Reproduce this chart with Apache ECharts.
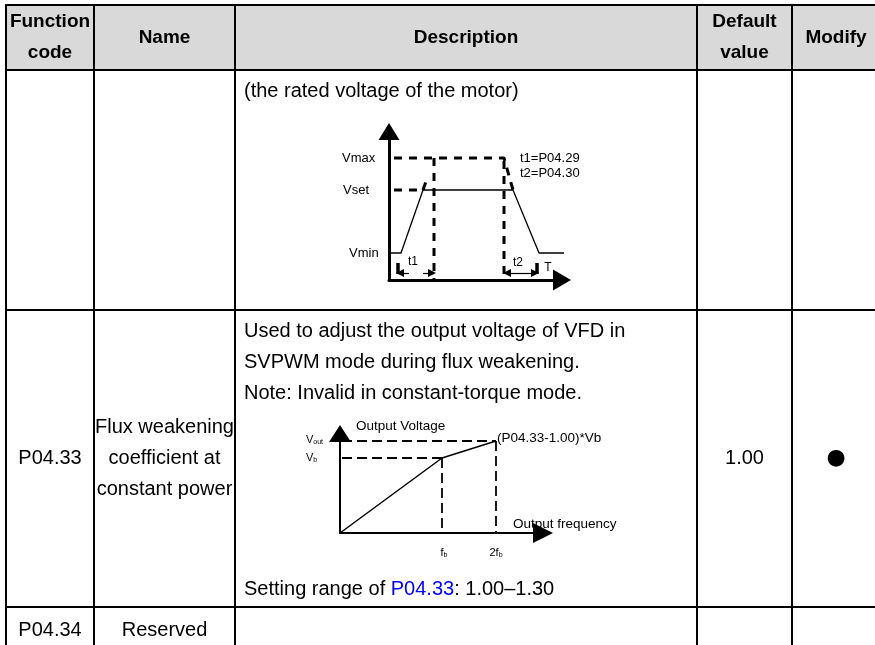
<!DOCTYPE html>
<html><head><meta charset="utf-8">
<script src="https://cdn.jsdelivr.net/npm/echarts@6/dist/echarts.min.js"></script>
<style>html,body{margin:0;padding:0;background:#fff}#c{width:875px;height:645px}</style>
</head><body><div id="c"></div>
<script>
// ================= DATA =================
const headerLines = [['Function','code'],['Name'],['Description'],['Default','value'],['Modify']];
const funcCodes = ['', 'P04.33', 'P04.34'];
const paramNames = [[], ['Flux weakening','coefficient at','constant power'], ['Reserved']];
const defaultValues = ['', '1.00', ''];
const modifyMarks = ['', '\u25CF', ''];
const descTopLines = [
  ['(the rated voltage of the motor)'],
  ['Used to adjust the output voltage of VFD in','SVPWM mode during flux weakening.','Note: Invalid in constant-torque mode.'],
  []
];
const descBottomLines = ['', 'Setting range of {link|P04.33}: 1.00\u20131.30', ''];

// Diagram 1: output voltage vs. time (units)
const d1Profile = [[0,27],[12,27],[34,90],[124,90],[150,27],[177,27]];
const d1Dashed = [
  [[5,122],[115,122],[124,90]],
  [[5,90],[33,90]],
  [[34,90],[37.5,100]],
  [[45,122],[45,1]],
  [[115,119],[115,1]]
];
const d1Bars = [[[9,6],[9,17]], [[148,6],[148,17]]];
const d1ArrowsSingle = [[[20,7],[11,7]], [[34,7],[43,7]]];
const d1ArrowsDouble = [[[118,7],[146,7]]];
const d1Labels = ['Vmax','Vset','Vmin','t1=P04.29','t2=P04.30'];
const d1LabelAt = [[-47,122],[-46,90],[-40,27],[131,122],[131,107]];
const d1SmallLabels = ['t1','t2','T'];
const d1SmallLabelAt = [[24,18],[129,17],[159,12]];

// Diagram 2: output voltage vs. output frequency
const d2Curve = [[0,0],[102,75],[156,92]];
const d2Dashed = [
  [[2,92],[156,92]],
  [[2,75],[102,75]],
  [[102,75],[102,1]],
  [[156,92],[156,1]]
];
const d2Labels = ['Output Voltage','(P04.33-1.00)*Vb','Output frequency'];
const d2LabelAt = [[16,107],[157,95],[173,9]];
const d2AxisLabels = ['V{sub|out}','V{sub|b}','f{sub|b}','2f{sub|b}'];
const d2AxisLabelAt = [[-34,93],[-34,75],[104,-20],[156,-20]];

// ================= LAYOUT =================
const colEdges = [6, 94, 235, 697, 792, 880];
const rowEdges = [5, 70, 310, 607, 653];
const FONT = '"Liberation Sans", Arial, sans-serif';
const LINE_GAP = 31;

const cells = [];
for (let r = 0; r < rowEdges.length - 1; r++) for (let c = 0; c < colEdges.length - 1; c++) cells.push([c, r]);

function cellLines(c, r) {
  if (r === 0) return headerLines[c];
  const i = r - 1;
  if (c === 0) return funcCodes[i] ? [funcCodes[i]] : [];
  if (c === 1) return paramNames[i];
  if (c === 3) return defaultValues[i] ? [defaultValues[i]] : [];
  if (c === 4) return modifyMarks[i] ? [modifyMarks[i]] : [];
  return [];
}

function renderCell(params, api) {
  const c = api.value(0), r = api.value(1);
  const p0 = api.coord([colEdges[c], rowEdges[r]]);
  const p1 = api.coord([colEdges[c + 1], rowEdges[r + 1]]);
  const children = [{
    type: 'rect',
    shape: {x: p0[0], y: p0[1], width: p1[0] - p0[0], height: p1[1] - p0[1]},
    style: {fill: r === 0 ? '#d9d9d9' : '#ffffff', stroke: '#000', lineWidth: 2}
  }];
  const cx = (p0[0] + p1[0]) / 2, cy = (p0[1] + p1[1]) / 2;
  if (c === 2 && r > 0) {
    const i = r - 1;
    const top = descTopLines[i] || [];
    top.forEach((t, k) => children.push({
      type: 'text', x: p0[0] + 9, y: p0[1] + 21.5 + k * LINE_GAP,
      style: {text: t, font: '20px ' + FONT, fill: '#000', align: 'left', verticalAlign: 'middle'}
    }));
    if (descBottomLines[i]) children.push({
      type: 'text', x: p0[0] + 9, y: p1[1] - 18,
      style: {text: descBottomLines[i], font: '20px ' + FONT, fill: '#000', align: 'left', verticalAlign: 'middle',
        rich: {link: {fill: '#0000ff', font: '20px ' + FONT}}}
    });
  } else {
    const lines = cellLines(c, r);
    const n = lines.length;
    lines.forEach((t, k) => {
      const isDot = t === '\u25CF';
      children.push({
        type: 'text', x: cx, y: cy + (k - (n - 1) / 2) * LINE_GAP,
        style: {text: t, font: r === 0 ? 'bold 19px ' + FONT : (isDot ? '22px "DejaVu Sans"' : '20px ' + FONT),
          fill: '#000', align: 'center', verticalAlign: 'middle'}
      });
    });
  }
  return {type: 'group', children};
}

function textSeries(axis, texts, anchors, font, align) {
  return {
    type: 'custom', coordinateSystem: 'cartesian2d', xAxisIndex: axis, yAxisIndex: axis,
    data: anchors, silent: true, clip: false, z: 5,
    renderItem(params, api) {
      const p = api.coord([api.value(0), api.value(1)]);
      return {type: 'text', x: p[0], y: p[1],
        style: {text: texts[params.dataIndex], font: font, fill: '#000', align: align, verticalAlign: 'middle',
          rich: {sub: {font: '7px ' + FONT, fill: '#000', verticalAlign: 'bottom'}}}};
    }
  };
}

function polyline(axis, data, width, dash) {
  return {type: 'line', xAxisIndex: axis, yAxisIndex: axis, data: data, symbol: 'none', silent: true, clip: false,
    lineStyle: {color: '#000', width: width, type: dash || 'solid', cap: 'butt'}, z: 3};
}

function arrowLines(axis, segs, symbols, size) {
  return {type: 'lines', coordinateSystem: 'cartesian2d', xAxisIndex: axis, yAxisIndex: axis, silent: true,
    symbol: symbols, symbolSize: size, clip: false,
    lineStyle: {color: '#000', width: 1.2, opacity: 1, curveness: 0},
    data: segs.map(s => ({coords: s})), z: 4};
}

function hiddenAxis(extra) {
  return Object.assign({type: 'value', show: false}, extra);
}
function arrowAxis(gridIndex, min, max, lw, size) {
  return {type: 'value', gridIndex, min, max, z: 6,
    axisLine: {show: true, onZero: true, symbol: ['none', 'triangle'], symbolSize: size,
      lineStyle: {color: '#000', width: lw}},
    axisTick: {show: false}, axisLabel: {show: false}, splitLine: {show: false}};
}

const chart = echarts.init(document.getElementById('c'), null, {renderer: 'canvas'});
const option = {
  animation: false,
  backgroundColor: '#ffffff',
  grid: [
    {left: 0, top: 0, width: 875, height: 645},
    {left: 389, top: 131.5, width: 173, height: 148.5},
    {left: 340, top: 433.5, width: 203, height: 99.5}
  ],
  xAxis: [
    hiddenAxis({gridIndex: 0, min: 0, max: 875}),
    arrowAxis(1, 0, 173, 3, [21, 18]),
    arrowAxis(2, 0, 203, 2, [20, 20])
  ],
  yAxis: [
    hiddenAxis({gridIndex: 0, min: 0, max: 645, inverse: true}),
    arrowAxis(1, 0, 148.5, 3, [21, 17]),
    arrowAxis(2, 0, 99.5, 2, [22, 17])
  ],
  series: [
    {type: 'custom', coordinateSystem: 'cartesian2d', xAxisIndex: 0, yAxisIndex: 0, data: cells,
      renderItem: renderCell, silent: true, z: -10},
    polyline(1, d1Profile, 1.3),
    ...d1Dashed.map(s => polyline(1, s, 3, [8, 7])),
    ...d1Bars.map(s => polyline(1, s, 3.5)),
    arrowLines(1, d1ArrowsSingle, ['none', 'triangle'], 8),
    arrowLines(1, d1ArrowsDouble, ['triangle', 'triangle'], 8),
    textSeries(1, d1Labels, d1LabelAt, '13px ' + FONT, 'left'),
    textSeries(1, d1SmallLabels, d1SmallLabelAt, '12px ' + FONT, 'center'),
    polyline(2, d2Curve, 1.5),
    ...d2Dashed.map(s => polyline(2, s, 1.8, [10, 5])),
    textSeries(2, d2Labels, d2LabelAt, '13.5px ' + FONT, 'left'),
    textSeries(2, d2AxisLabels.slice(0, 2), d2AxisLabelAt.slice(0, 2), '11px ' + FONT, 'left'),
    textSeries(2, d2AxisLabels.slice(2), d2AxisLabelAt.slice(2), '11px ' + FONT, 'center')
  ]
};
chart.setOption(option);
</script>
</body></html>
